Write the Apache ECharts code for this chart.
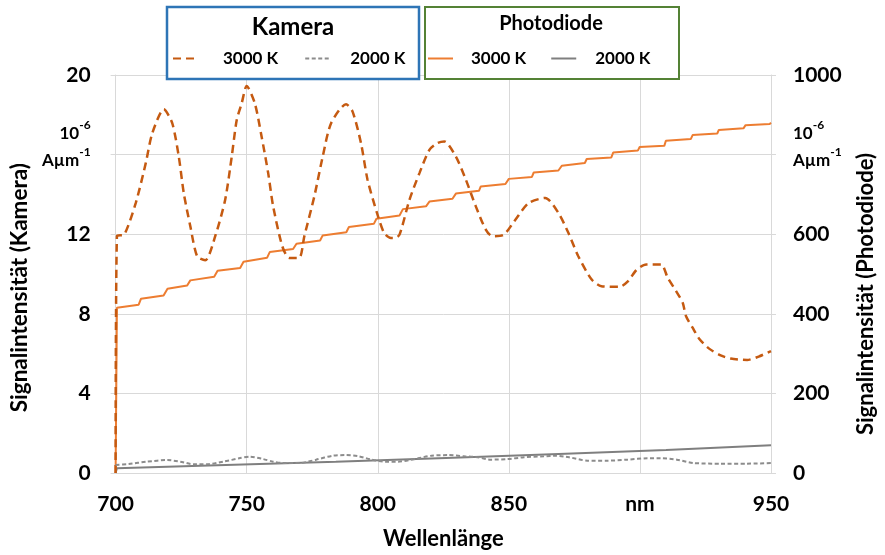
<html>
<head>
<meta charset="utf-8" />
<title>Signalintensität</title>
<script src="https://cdn.jsdelivr.net/npm/echarts@6/dist/echarts.min.js"></script>
<style>
  html, body { margin: 0; padding: 0; background: #fff; }
  #chart { width: 885px; height: 555px; }
</style>
</head>
<body>
<div id="chart"></div>
<script type="text/javascript">
// Kamera, 3000 K (left axis, 10^-6 A/um)
var kam3000X = [700, 700.5, 703.3, 707.7, 711.5, 714, 718.4, 721.6, 724.1, 726, 728.5, 731.1, 734.2, 738, 741.8, 744.3, 746.2, 748.1, 750,
  753.1, 755.7, 758.2, 760.1, 763.6, 766.2, 770, 772, 775.8, 779, 782.2, 787.9, 790.4, 793.6, 796.1, 799.7, 802.4, 805, 806.4, 808.3,
  812.1, 815.9, 819.7, 822.8, 825.4, 829.8, 833.6, 837.4, 841.2, 843.7, 848.1, 852.5, 857.6, 863.9, 868.9, 872.7, 876.5, 881.6, 885.3,
  892.3, 895.5, 898.6, 902.4, 908.1, 910.6, 913.8, 916.3, 917.6, 920.1, 922.6, 926.4, 930.8, 934.6, 940.9, 945.3, 950];
var kam3000Y = [0, 11.9, 11.98, 13.57, 15.57, 17.08, 18.28, 17.58, 15.9, 14.07, 12.4, 10.89, 10.69, 11.9, 13.73, 15.9, 17.74, 18.58, 19.45,
  18.58, 16.9, 15.07, 13.4, 11.39, 10.81, 10.81, 11.9, 13.9, 15.9, 17.58, 18.53, 18.16, 16.58, 14.74, 13.07, 12.07, 11.81, 11.81, 11.98,
  13.73, 15.07, 16.24, 16.58, 16.66, 15.9, 14.74, 13.4, 12.23, 11.9, 11.98, 12.73, 13.57, 13.82, 13.07, 12.07, 10.89, 9.72, 9.39,
  9.36, 9.64, 10.19, 10.48, 10.48, 9.81, 9.14, 8.56, 7.88, 7.3, 6.75, 6.25, 5.91, 5.75, 5.68, 5.85, 6.13];

// Kamera, 2000 K (left axis)
var kam2000X = [700, 705, 712, 719.7, 724.7, 729.7, 734.8, 741.1, 747.5, 751.2, 756.3, 760.1, 763.9, 770.2, 776.5, 782.8, 787.6, 792.7,
  797.7, 802.8, 807.8, 815.4, 820.5, 826.8, 833.1, 838.1, 843.2, 849.5, 855.8, 863.4, 868, 873, 880, 887.6, 895.2, 902.8, 907.9, 914.1,
  920.5, 930.6, 940.7, 950];
var kam2000Y = [0.40, 0.45, 0.57, 0.65, 0.57, 0.44, 0.44, 0.57, 0.75, 0.82, 0.70, 0.57, 0.50, 0.50, 0.67, 0.87, 0.90, 0.84,
  0.67, 0.57, 0.57, 0.74, 0.87, 0.90, 0.84, 0.79, 0.67, 0.70, 0.79, 0.84, 0.87, 0.79, 0.62, 0.62, 0.67, 0.74, 0.74, 0.67,
  0.50, 0.47, 0.47, 0.50];

// Photodiode, 3000 K (right axis)
var pd3000X = [700, 700.5, 708.8, 709.7, 718.3, 719.8, 727.3, 728.5, 737.6, 738.9, 747.5, 748.8, 757.8, 758.8, 767.7, 769, 778, 779,
  788, 789, 798.5, 799.5, 808.3, 809.6, 818.4, 819.7, 828.5, 829.8, 838.6, 839.3, 848.7, 850, 858.8, 859.5, 868.9, 870.2, 879, 879.7,
  889.1, 889.8, 899.2, 899.9, 909.3, 909.9, 919.4, 920.1, 929.5, 930.1, 939.5, 940.3, 949.5, 950];
var pd3000Y = [0, 415, 423, 438, 446, 463, 471, 484, 493, 508, 515, 531, 541, 555, 563, 576, 584, 597,
  605, 618, 626, 639, 647, 663, 670, 682, 689, 702, 709, 720, 726, 739, 744, 755, 760, 772, 779, 789,
  793, 805, 810, 819, 822, 835, 839, 849, 853, 862, 866, 874, 877, 880];

// Photodiode, 2000 K (right axis)
var pd2000X = [700, 700.5, 742, 784, 826, 869, 910, 950];
var pd2000Y = [0, 12, 20, 28, 38, 48, 58, 70];

var FONT = 'Lato';

function zip(xs, ys) {
  var out = [];
  for (var i = 0; i < xs.length; i++) out.push([xs[i], ys[i]]);
  return out;
}

var unitRich = {
  b: { fontFamily: FONT, fontWeight: 'bold', fontSize: 17, color: '#000', lineHeight: 27 },
  sup: { fontFamily: FONT, fontWeight: 'bold', fontSize: 12, color: '#000', verticalAlign: 'top', lineHeight: 27 },
  e: { fontSize: 10, lineHeight: 16 }
};
var unitLabel = '{b|10}{sup|-6}\n{b|Aµm}{sup|-1}\n{e| }';

var chart = echarts.init(document.getElementById('chart'));
var option = {
  animation: false,
  backgroundColor: '#fff',
  grid: { left: 113, right: 112, top: 75, bottom: 81 },
  xAxis: {
    type: 'value', min: 700, max: 950, interval: 50,
    name: 'Wellenlänge', nameLocation: 'middle', nameGap: 55,
    nameTextStyle: { fontFamily: FONT, fontWeight: 'bold', fontSize: 22, color: '#000' },
    axisLine: { show: true, lineStyle: { color: '#d9d9d9', width: 1 } },
    axisTick: { show: false },
    splitLine: { show: true, lineStyle: { color: '#d9d9d9', width: 1 } },
    axisLabel: {
      margin: 21, fontFamily: FONT, fontWeight: 'bold', fontSize: 21, color: '#000',
      formatter: function (v) { return v === 900 ? 'nm' : v; }
    }
  },
  yAxis: [{
    type: 'value', min: 0, max: 20, interval: 4, position: 'left',
    name: 'Signalintensität (Kamera)\u00a0\u00a0\u00a0\u00a0\u00a0', nameLocation: 'middle', nameGap: 84, nameRotate: 90,
    nameTextStyle: { fontFamily: FONT, fontWeight: 'bold', fontSize: 22.5, color: '#000' },
    axisLine: { show: true, lineStyle: { color: '#d9d9d9', width: 1 } },
    axisTick: { show: true, length: 5, lineStyle: { color: '#d9d9d9' } },
    splitLine: { show: true, lineStyle: { color: '#d9d9d9', width: 1 } },
    axisLabel: {
      margin: 25, fontFamily: FONT, fontWeight: 'bold', fontSize: 21, color: '#000', rich: unitRich,
      formatter: function (v) { return v === 16 ? unitLabel : v; }
    }
  }, {
    type: 'value', min: 0, max: 1000, interval: 200, position: 'right',
    name: 'Signalintensität (Photodiode)', nameLocation: 'middle', nameGap: 84, nameRotate: 90,
    nameTextStyle: { fontFamily: FONT, fontWeight: 'bold', fontSize: 22, color: '#000', padding: [0, 40, 0, 0] },
    axisLine: { show: true, lineStyle: { color: '#d9d9d9', width: 1 } },
    axisTick: { show: true, length: 5, lineStyle: { color: '#d9d9d9' } },
    splitLine: { show: false },
    axisLabel: {
      margin: 22, fontFamily: FONT, fontWeight: 'bold', fontSize: 21, color: '#000', rich: unitRich,
      formatter: function (v) { return v === 800 ? unitLabel : v; }
    }
  }],
  legend: [{
    data: [
      { name: 'Kamera 3000 K', textStyle: { padding: [0, 0, 0, 21] } },
      { name: 'Kamera 2000 K', textStyle: { padding: [0, 0, 0, 16] } }
    ],
    z: 20, left: 172, top: 50, padding: 0, itemWidth: 24, itemHeight: 12, itemGap: 26,
    itemStyle: { opacity: 0 },
    formatter: function (n) { return n.replace('Kamera ', ''); },
    textStyle: { fontFamily: FONT, fontWeight: 'bold', fontSize: 17, color: '#000' }
  }, {
    data: [
      { name: 'Photodiode 3000 K', textStyle: { padding: [0, 0, 0, 13] } },
      { name: 'Photodiode 2000 K', textStyle: { padding: [0, 0, 0, 14] } }
    ],
    z: 20, left: 427, top: 50, padding: 0, itemWidth: 25, itemHeight: 12, itemGap: 24,
    itemStyle: { opacity: 0 },
    formatter: function (n) { return n.replace('Photodiode ', ''); },
    textStyle: { fontFamily: FONT, fontWeight: 'bold', fontSize: 17, color: '#000' }
  }],
  graphic: [
    { type: 'rect', z: 5, shape: { x: 167, y: 7, width: 252, height: 72 },
      style: { fill: '#fff', stroke: '#2E75B6', lineWidth: 2.5 } },
    { type: 'rect', z: 5, shape: { x: 425, y: 7, width: 254, height: 72 },
      style: { fill: '#fff', stroke: '#548235', lineWidth: 2 } },
    { type: 'text', z: 6, style: { text: 'Kamera', x: 293, y: 27, align: 'center', verticalAlign: 'middle',
      fontFamily: FONT, fontWeight: 'bold', fontSize: 24, fill: '#000' } },
    { type: 'text', z: 6, style: { text: 'Photodiode', x: 551, y: 24, align: 'center', verticalAlign: 'middle',
      fontFamily: FONT, fontWeight: 'bold', fontSize: 20, fill: '#000' } }
  ],
  series: [{
    name: 'Photodiode 3000 K', type: 'line', yAxisIndex: 1, symbol: 'none',
    data: zip(pd3000X, pd3000Y),
    lineStyle: { color: '#ED7D31', width: 2 }, itemStyle: { color: '#ED7D31' }
  }, {
    name: 'Photodiode 2000 K', type: 'line', yAxisIndex: 1, symbol: 'none',
    data: zip(pd2000X, pd2000Y),
    lineStyle: { color: '#7F7F7F', width: 2 }, itemStyle: { color: '#7F7F7F' }
  }, {
    name: 'Kamera 3000 K', type: 'line', yAxisIndex: 0, symbol: 'none', smooth: 0.25,
    data: zip(kam3000X, kam3000Y),
    lineStyle: { color: '#C55A11', width: 2.5, type: [8, 5] }, itemStyle: { color: '#C55A11' }
  }, {
    name: 'Kamera 2000 K', type: 'line', yAxisIndex: 0, symbol: 'none', smooth: 0.25,
    data: zip(kam2000X, kam2000Y),
    lineStyle: { color: '#8C8C8C', width: 2, type: [4, 2.5] }, itemStyle: { color: '#8C8C8C' }
  }]
};
chart.setOption(option);
</script>
</body>
</html>
